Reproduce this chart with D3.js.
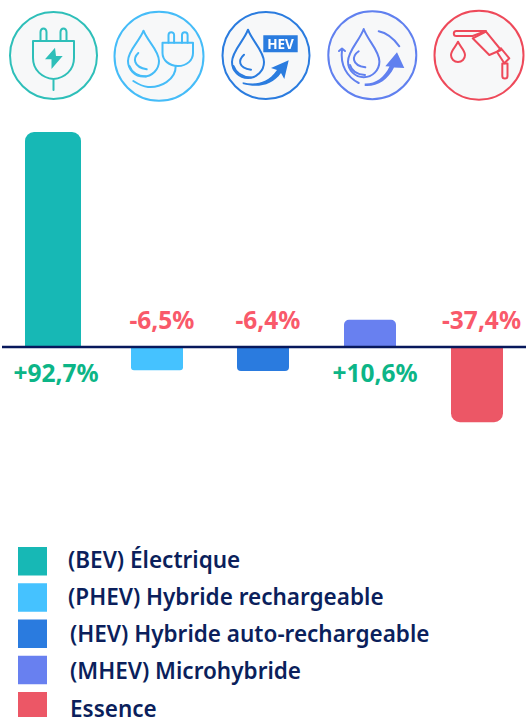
<!DOCTYPE html>
<html>
<head>
<meta charset="utf-8">
<script src="https://cdn.jsdelivr.net/npm/d3@7"></script>
<style>
  html, body { margin: 0; padding: 0; background: #fff; overflow: hidden; }
  svg { display: block; }
  text { font-family: "Noto Sans", sans-serif; }
</style>
</head>
<body>
<div id="chart"></div>
<script>
// Data
const categories = ["BEV", "PHEV", "HEV", "MHEV", "Essence"];
const legendLabels = ["(BEV) Électrique", "(PHEV) Hybride rechargeable", "(HEV) Hybride auto-rechargeable", "(MHEV) Microhybride", "Essence"];
const growthLabels = ["+92,7%", "-6,5%", "-6,4%", "+10,6%", "-37,4%"];
// the bars in the picture are not drawn to the scale of their labels, so heights are read separately
// (unit: same as the tallest bar = 92.7)
const barValues = [92.7, -10, -10.4, 11.7, -32.4];

const colors = ["#17b8b5", "#45c2ff", "#2a7bdf", "#6880f0", "#ec5766"];
const iconColors = ["#2fbfb9", "#45bcf8", "#2a7bdf", "#6080ef", "#ee4a5a"];
const barWidths = [56, 52, 52, 52, 52];
const barRadius = [9, 3, 4, 5, 9];

const width = 526, height = 717;

const svg = d3.select("#chart")
  .append("svg")
    .attr("width", width)
    .attr("height", height);

// the icons in the picture are soft, slightly blurred images
const soft = svg.append("defs").append("filter").attr("id", "soft");
soft.append("feGaussianBlur").attr("stdDeviation", 0.35);

// scales
const x = d3.scaleOrdinal().domain(categories).range([53, 157, 263, 370, 477]);
const xLabel = d3.scaleOrdinal().domain(categories).range([56, 162, 268, 375, 481.5]);
const y = d3.scaleLinear().domain([0, 92.7]).range([347, 132]);
const legendY = d3.scalePoint().domain(legendLabels).range([561, 706]);
const legendTextY = d3.scalePoint().domain(legendLabels).range([568, 716.5]);

// a bar with only its far end rounded
function barPath(d, i) {
  const w = barWidths[i], r = barRadius[i];
  const x0 = x(categories[i]) - w / 2, x1 = x0 + w;
  const y0 = y(0), y1 = y(d);
  const s = d >= 0 ? -1 : 1;
  const sweep = d >= 0 ? 1 : 0;
  return `M${x0},${y0}V${y1 - s * r}A${r},${r} 0 0 ${sweep} ${x0 + r},${y1}H${x1 - r}A${r},${r} 0 0 ${sweep} ${x1},${y1 - s * r}V${y0}Z`;
}

svg.append("g")
  .selectAll("path")
  .data(barValues)
  .join("path")
    .attr("d", barPath)
    .attr("fill", (d, i) => colors[i]);

// zero line
svg.append("line")
  .attr("x1", 2)
  .attr("x2", width)
  .attr("y1", y(0))
  .attr("y2", y(0))
  .attr("stroke", "#07185c")
  .attr("stroke-width", 2.6);

// value labels: above the line for falls, below it for rises
svg.append("g")
  .selectAll("text")
  .data(growthLabels)
  .join("text")
    .attr("x", (d, i) => xLabel(categories[i]))
    .attr("y", d => d[0] === "+" ? y(0) + 35 : y(0) - 18)
    .attr("text-anchor", "middle")
    .attr("font-size", 24.5)
    .attr("font-weight", 700)
    .attr("fill", d => d[0] === "+" ? "#0cb587" : "#f9596a")
    .text(d => d);

// legend
const legend = svg.append("g");

legend.selectAll("rect")
  .data(legendLabels)
  .join("rect")
    .attr("x", 18)
    .attr("y", d => legendY(d) - 14)
    .attr("width", 29)
    .attr("height", 28.5)
    .attr("fill", (d, i) => colors[i]);

legend.selectAll("text")
  .data(legendLabels)
  .join("text")
    .attr("x", (d, i) => i < 2 ? 68 : 70)
    .attr("y", d => legendTextY(d))
    .attr("font-size", 22.5)
    .attr("font-weight", 600)
    .attr("fill", "#0b1f5c")
    .text(d => d);

// icons
const iconCenters = [[53.5, 55.5, 43.5], [159, 56.3, 44.5], [266, 55.5, 43.5], [372.3, 55.2, 44], [479, 55.2, 44.5]];

svg.append("g")
  .attr("filter", "url(#soft)")
  .selectAll("circle")
  .data(iconCenters)
  .join("circle")
    .attr("cx", d => d[0])
    .attr("cy", d => d[1])
    .attr("r", d => d[2])
    .attr("fill", "#f7f8f9")
    .attr("stroke", (d, i) => iconColors[i])
    .attr("stroke-width", 2);

function dropPath(cx, tipY, cy, r) {
  const c = tipY + (cy - tipY) * 0.35;
  return `M${cx},${tipY}C${cx + r * 0.25},${c} ${cx + r},${cy - r * 0.7} ${cx + r},${cy}` +
    `A${r},${r} 0 1 1 ${cx - r},${cy}C${cx - r},${cy - r * 0.7} ${cx - r * 0.25},${c} ${cx},${tipY}Z`;
}

function icon(i) {
  return svg.append("g")
    .attr("filter", "url(#soft)")
    .attr("fill", "none")
    .attr("stroke", iconColors[i])
    .attr("stroke-width", 2)
    .attr("stroke-linecap", "round")
    .attr("stroke-linejoin", "round");
}
const stroke = (g, d) => g.append("path").attr("d", d);
const solid = (g, d, c) => g.append("path").attr("d", d).attr("fill", c).attr("stroke", "none");

// plug
const i0 = icon(0);
stroke(i0, "M40.5,41V32a3,3.5 0 0 1 6,0V41M60.5,41V32a3,3.5 0 0 1 6,0V41");
stroke(i0, "M33,41H74V58C74,70 65,78 53.5,79C42,78 33,70 33,58ZM53.5,79V90");
solid(i0, "M55,47.7L45,59.3H51.5L51.5,69L62.7,56H56Z", iconColors[0]);

// drop + plug
const i1 = icon(1);
stroke(i1, dropPath(143.5, 30.7, 61, 15.5));
stroke(i1, "M138.3,53C133,58 133,67 146.7,69.3");
stroke(i1, "M129.5,66C132,73 138,76 146,76.5");
stroke(i1, "M168.5,42.7V35a2.8,2.8 0 0 1 5.6,0V42.7M182,42.7V35a2.8,2.8 0 0 1 5.6,0V42.7");
stroke(i1, "M162.5,42.7H193V53C193,60 187,66 178,66C169,66 162.5,60 162.5,53Z");
stroke(i1, "M175.7,66C176,80 160,88 148,87C142,86.5 138,84 133.3,81");

// drop + HEV arrow
const i2 = icon(2);
stroke(i2, dropPath(248, 29.7, 62, 16));
stroke(i2, "M244,54.7C238,60 238,68 251,69.7");
stroke(i2, "M233.5,66C236,73 243,77 251,77.5");
solid(i2, "M263.3,35.3H297.7V52.3H263.3Z", iconColors[2]);
i2.append("text")
  .attr("x", 280.5)
  .attr("y", 49)
  .attr("text-anchor", "middle")
  .attr("font-size", 13.5)
  .attr("font-weight", 700)
  .attr("fill", "#fff")
  .attr("stroke", "none")
  .text("HEV");
solid(i2, "M242.7,82.2C255,85 267,84 277,70L271,68L288.7,60.3L284.3,79L281,73C272,86 257,88 242.7,84Z", iconColors[2]);

// drop + circular arrows
const i3 = icon(3);
stroke(i3, dropPath(363.7, 29, 61.5, 15.7));
stroke(i3, "M358.7,51.3C352,56 351,65 365.3,67.3");
stroke(i3, "M350,65C352,72 358,74.5 365,75");
stroke(i3, "M342,50C340,65 347,77 358.7,83");
stroke(i3, "M339,51L342,48.5L345,51");
stroke(i3, "M378.7,31.3C387,33 394,39 399.3,46.3");
solid(i3, "M364.7,83.5C375,84 384,78 389.5,66.5L385.3,66.3L397,52.3L404.3,68L394,67.5C388,80 377,87 364.7,86Z", iconColors[3]);

// fuel nozzle + drop
const i4 = icon(4);
stroke(i4, dropPath(458, 41.7, 55, 7));
stroke(i4, "M456.3,31H486L472.7,36H456.3A2.5,2.5 0 0 1 456.3,31Z");
stroke(i4, "M472.7,38.3L486,31.7L501,50L489.3,55Z");
stroke(i4, "M497,52L501,48.3L509.3,58.3L504.3,63.3Z");
stroke(i4, "M502.3,63.5H507.5V76A2.6,2.6 0 0 1 502.3,76Z");
</script>
</body>
</html>
